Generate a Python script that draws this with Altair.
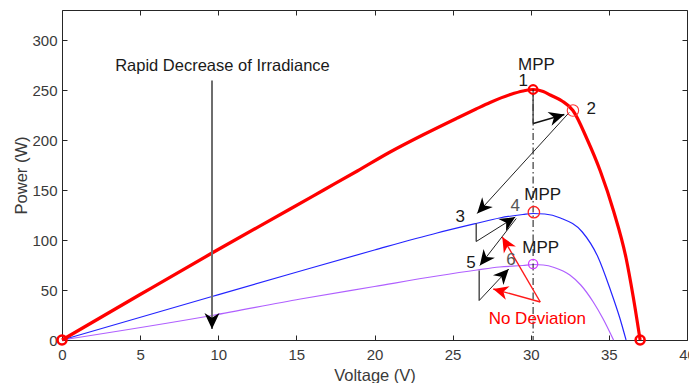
import math
import altair as alt
import pandas as pd

# ---- P-V curves at three irradiance levels (Voltage in V, Power in W) ----
red_v = [0, 5, 9.6, 14.6, 16.75, 18.9, 21.0, 23.15, 25.3, 26.5, 27.4, 28.7, 29.5, 30.15,
         30.8, 31.25, 32.0, 32.7, 33.6, 34.45, 35.3, 36.1, 36.56, 37.0]
red_p = [0, 45.5, 87, 131, 150, 169, 188, 205.5, 222, 231, 237.5, 245.5, 249, 250.5,
         248.5, 245, 239, 229.5, 201, 169, 129, 82, 43, 0]

blue_v = [0, 9.6, 14.6, 20, 24, 26.5, 28, 29.5, 30.15, 30.9, 31.9, 33.3, 34.3, 35.1, 35.7, 36.1]
blue_p = [0, 43.5, 66, 90, 107, 116.5, 122, 125.5, 126.5, 126, 122, 108, 83, 50, 22, 0]

purple_v = [0, 9.6, 15.26, 20, 24, 26.56, 28, 29.5, 30.15, 30.8, 31.5, 32.5, 33.2, 34.0, 34.6, 35.3]
purple_p = [0, 24.5, 41, 53.5, 64, 70, 73, 74.5, 75.5, 75, 72.5, 65, 55, 38, 22, 0]

# ---- operating points ----
end_v = [0, 37.0]
end_p = [0, 0]
mpp1_v, mpp1_p = [30.15], [250.5]
pt2_v, pt2_p = [32.7], [229.5]
mpp2_v, mpp2_p = [30.2], [127.8]
mpp3_v, mpp3_p = [30.15], [76.0]

# ---- tracking path arrows (start -> tip) ----
blk_arrow_v1 = [30.16, 32.46, 26.51, 29.07, 26.7]
blk_arrow_p1 = [216.5, 227.5, 98.5, 121.5, 39.5]
blk_arrow_v2 = [32.15, 26.57, 29.01, 26.74, 28.59]
blk_arrow_p2 = [225.5, 126.5, 123.0, 74.5, 71.0]

# plain segments without heads
seg_v1 = [26.51, 26.7, 30.15]
seg_p1 = [116.5, 69.5, 246.0]
seg_v2 = [26.51, 26.7, 30.15]
seg_p2 = [98.5, 39.5, 216.5]

red_arrow_v1 = [30.61, 30.61]
red_arrow_p1 = [38.0, 38.0]
red_arrow_v2 = [27.6, 28.18]
red_arrow_p2 = [51.0, 103.0]

drop_v1, drop_p1 = [9.6], [259.5]
drop_v2, drop_p2 = [9.6], [11.0]

# dash-dot MPP locus
locus_v = [30.15, 30.15]
locus_p = [250.5, 0]

# ---- text annotations ----
note_text = ["MPP", "MPP", "MPP", "1", "2", "3", "5"]
note_v = [30.37, 30.77, 30.64, 29.52, 33.87, 25.49, 26.18]
note_p = [275.5, 145.5, 92.0, 259.5, 231.5, 122.8, 77.2]
grey_text = ["4", "6"]
grey_v = [29.01, 28.74]
grey_p = [134.5, 80.5]
title_text = ["Rapid Decrease of Irradiance"]
title_v, title_p = [10.27], [274.5]
nodev_text = ["No Deviation"]
nodev_v, nodev_p = [30.42], [21.2]

x_ticks = list(range(0, 41, 5))
y_ticks = list(range(0, 301, 50))

W, H = 625, 330
X_DOM, Y_DOM = [0, 40], [0, 330]
SX = W / (X_DOM[1] - X_DOM[0])
SY = H / (Y_DOM[1] - Y_DOM[0])

FONT = "Liberation Sans"
AX = "#262626"
DART = "M0,0L0.7,1.5L0,1.05L-0.7,1.5Z"

xs = alt.Scale(domain=X_DOM, nice=False, zero=False)
ys = alt.Scale(domain=Y_DOM, nice=False, zero=False)


def ax_main_x():
    return alt.Axis(orient="bottom", values=x_ticks, ticks=False, tickSize=0, domain=True,
                    domainColor=AX, grid=False, labelFont=FONT, labelFontSize=15,
                    labelColor="#3a3a3a", labelPadding=7, labelFlush=False,
                    title="Voltage (V)", titleFont=FONT, titleFontSize=16.5,
                    titleFontWeight="normal", titleColor="#3a3a3a", titlePadding=5)


def ax_main_y():
    return alt.Axis(orient="left", values=y_ticks, ticks=False, tickSize=0, domain=True,
                    domainColor=AX, grid=False, labelFont=FONT, labelFontSize=15,
                    labelColor="#3a3a3a", labelPadding=5, labelFlush=False,
                    title="Power (W)", titleFont=FONT, titleFontSize=16.5,
                    titleFontWeight="normal", titleColor="#3a3a3a", titlePadding=2)


def ax_ticks(orient, values, with_domain=False, offset=-5):
    return alt.Axis(orient=orient, values=values, ticks=True, tickSize=5, tickColor=AX,
                    tickWidth=1, domain=with_domain, domainColor=AX, labels=False,
                    grid=False, title=None, offset=offset)


def df(**cols):
    return pd.DataFrame(cols)


def curve(v, p, color, width, xa, ya):
    return alt.Chart(df(v=v, p=p)).mark_line(
        color=color, strokeWidth=width, interpolate="monotone"
    ).encode(x=alt.X("v:Q", scale=xs, axis=xa), y=alt.Y("p:Q", scale=ys, axis=ya))


def segments(v1, p1, v2, p2, color, width, dash=None):
    kw = dict(color=color, strokeWidth=width)
    if dash:
        kw["strokeDash"] = dash
    return alt.Chart(df(v1=v1, p1=p1, v2=v2, p2=p2)).mark_rule(**kw).encode(
        x=alt.X("v1:Q", scale=xs, axis=None), y=alt.Y("p1:Q", scale=ys, axis=None),
        x2="v2:Q", y2="p2:Q")


def heads(v1, p1, v2, p2, color, size):
    ang = [math.degrees(math.atan2((b - a) * SX, (d - c) * SY)) % 360
           for a, c, b, d in zip(v1, p1, v2, p2)]
    return alt.Chart(df(v=v2, p=p2, a=ang)).mark_point(
        shape=DART, filled=True, color=color, opacity=1, size=size, strokeWidth=0
    ).encode(x=alt.X("v:Q", scale=xs, axis=None), y=alt.Y("p:Q", scale=ys, axis=None),
             angle=alt.Angle("a:Q", scale=None))


def rings(v, p, color, size, width):
    return alt.Chart(df(v=v, p=p)).mark_point(
        shape="circle", filled=False, color=color, size=size, strokeWidth=width, opacity=1
    ).encode(x=alt.X("v:Q", scale=xs, axis=None), y=alt.Y("p:Q", scale=ys, axis=None))


def labels(t, v, p, color, size):
    return alt.Chart(df(t=t, v=v, p=p)).mark_text(
        font=FONT, fontSize=size, color=color, align="center", baseline="middle"
    ).encode(x=alt.X("v:Q", scale=xs, axis=None), y=alt.Y("p:Q", scale=ys, axis=None),
             text="t:N")


layers = [
    # axis carriers: labelled box sides plus inward tick rows on all four sides
    curve(purple_v, purple_p, "#B060FF", 1.2, ax_main_x(), ax_main_y()),
    curve(blue_v, blue_p, "#2424FF", 1.2, ax_ticks("bottom", x_ticks), ax_ticks("left", y_ticks)),
    curve(red_v, red_p, "#FF0000", 3.2,
          alt.Axis(orient="top", ticks=False, labels=False, domain=True, domainColor=AX,
                   grid=False, title=None),
          alt.Axis(orient="right", ticks=False, labels=False, domain=True, domainColor=AX,
                   grid=False, title=None)),
    alt.Chart(df(v=[0], p=[0])).mark_point(opacity=0).encode(
        x=alt.X("v:Q", scale=xs, axis=ax_ticks("top", x_ticks)),
        y=alt.Y("p:Q", scale=ys, axis=ax_ticks("right", y_ticks))),
    segments(locus_v[:1], locus_p[:1], locus_v[1:], locus_p[1:], "#111111", 1, [7, 3, 1.5, 3]),
    segments(seg_v1, seg_p1, seg_v2, seg_p2, "#444444", 1.4),
    segments(blk_arrow_v1[:1], blk_arrow_p1[:1], blk_arrow_v2[:1], blk_arrow_p2[:1], "#111111", 1.4),
    segments(blk_arrow_v1[1:], blk_arrow_p1[1:], blk_arrow_v2[1:], blk_arrow_p2[1:], "#222222", 1.0),
    heads(blk_arrow_v1, blk_arrow_p1, blk_arrow_v2, blk_arrow_p2, "#000000", 420),
    segments(red_arrow_v1, red_arrow_p1, red_arrow_v2, red_arrow_p2, "#FF1A1A", 1.4),
    heads(red_arrow_v1, red_arrow_p1, red_arrow_v2, red_arrow_p2, "#FF0000", 400),
    segments(drop_v1, drop_p1, drop_v2, drop_p2, "#6E6E6E", 2),
    heads(drop_v1, drop_p1, drop_v2, drop_p2, "#000000", 460),
    rings(end_v, end_p, "#FF0000", 80, 2.6),
    rings(mpp1_v, mpp1_p, "#FF0000", 75, 2.2),
    rings(pt2_v, pt2_p, "#FF3333", 130, 1.1),
    rings(mpp2_v, mpp2_p, "#FF2222", 130, 1.3),
    rings(mpp3_v, mpp3_p, "#D040FF", 85, 1.3),
    labels(note_text, note_v, note_p, "#1A1A1A", 17),
    labels(grey_text, grey_v, grey_p, "#555555", 17),
    labels(title_text, title_v, title_p, "#1A1A1A", 16.5),
    labels(nodev_text, nodev_v, nodev_p, "#FF0000", 17),
]

chart = alt.layer(*layers).resolve_axis(x="independent", y="independent").properties(
    width=W, height=H,
    autosize=alt.AutoSizeParams(type="none"),
    padding={"left": 62, "top": 10, "right": 2, "bottom": 43},
    background="white",
).configure_view(stroke=None)

chart.save("out.html", embed_options={"renderer": "svg", "actions": False})
